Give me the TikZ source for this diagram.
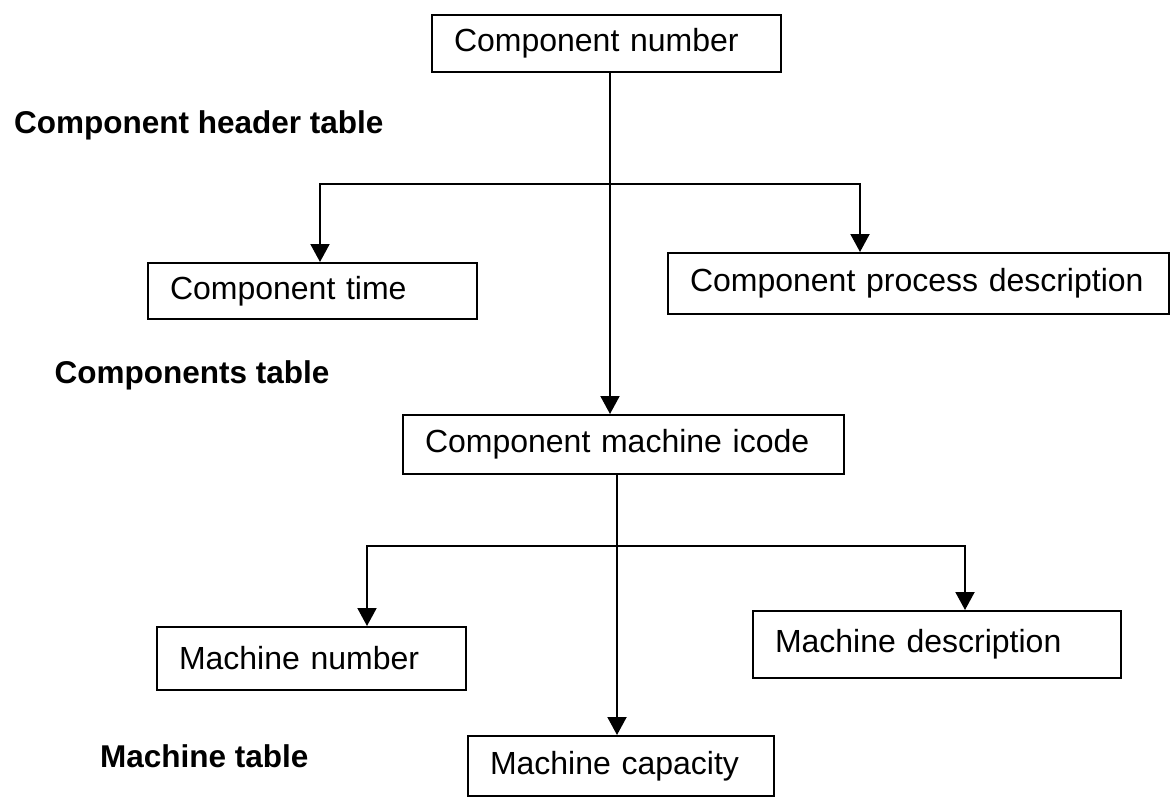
\documentclass[tikz,border=0pt]{standalone}
\usepackage{fontspec}
\setmainfont{Liberation Sans}
\usetikzlibrary{arrows.meta, positioning}

\begin{document}
\begin{tikzpicture}[x=1pt,y=-1pt,font=\fontsize{32}{38}\selectfont]
\tikzstyle{field}=[draw, line width=2pt, anchor=north west, align=left, inner xsep=22pt, inner ysep=0pt]
\tikzstyle{tablename}=[anchor=east, font=\fontsize{31.5}{38}\selectfont\bfseries]
\tikzstyle{link}=[line width=2pt]
\tikzstyle{followed}=[link, -{Triangle[length=18pt,width=19pt]}]

\useasboundingbox (0,0) rectangle (1170,797);

% fields
\node[field, text width=305pt, minimum height=57pt] (num) at (431,14) {Component number};
\node[field, text width=285pt, minimum height=56pt] (time) at (147,262) {Component time};
\node[field, text width=457pt, minimum height=61pt] (proc) at (667,252) {Component process description};
\node[field, text width=397pt, minimum height=59pt] (icode) at (402,414) {Component machine icode};
\node[field, text width=265pt, minimum height=63pt] (mnum) at (156,626) {Machine number};
\node[field, text width=324pt, minimum height=67pt] (mdesc) at (752,610) {Machine description};
\node[field, text width=262pt, minimum height=60pt] (mcap) at (467,735) {Machine capacity};

% table names
\node[tablename] (hdrtab) at (387,125) {Component header table};
\node[tablename] (comptab) at (333,375) {Components table};
\node[tablename] (machtab) at (312,756) {Machine table};

% links
\coordinate (split1) at (610,184);
\coordinate (left1) at (320,184);
\coordinate (right1) at (860,184);
\draw[followed] (num.south -| split1) -- (icode.north -| split1);
\draw[followed] (split1) -| (left1 |- time.north);
\draw[followed] (split1) -| (right1 |- proc.north);

\coordinate (split2) at (617,546);
\coordinate (left2) at (367,546);
\coordinate (right2) at (965,546);
\draw[followed] (icode.south -| split2) -- (mcap.north -| split2);
\draw[followed] (split2) -| (left2 |- mnum.north);
\draw[followed] (split2) -| (right2 |- mdesc.north);
\end{tikzpicture}
\end{document}
